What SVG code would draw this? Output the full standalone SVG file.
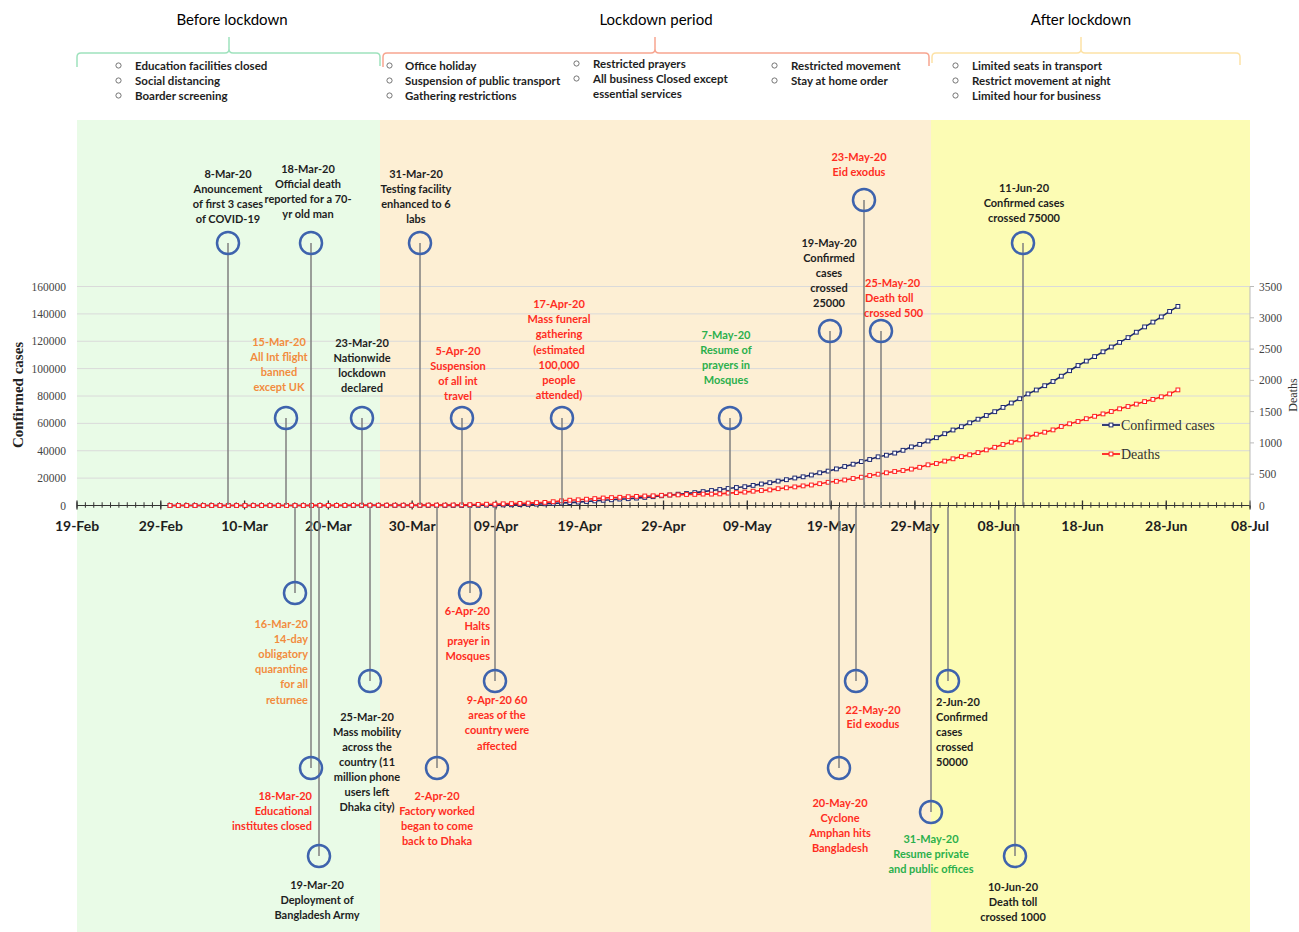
<svg xmlns="http://www.w3.org/2000/svg" width="1299" height="932" viewBox="0 0 1299 932">
<style>
.hd{font-family:Lato,"Liberation Sans",sans-serif;font-size:15px;fill:#000}
.bt{font-family:Lato,"Liberation Sans",sans-serif;font-size:11.5px;font-weight:700;fill:#1e1e1e}
.bu{fill:none;stroke:#666;stroke-width:0.9}
.lb{font-family:Lato,"Liberation Sans",sans-serif;font-size:11px;font-weight:700}
.c{text-anchor:middle}.e{text-anchor:end}
.k{fill:#1e1e1e}.r{fill:#ff2d1f}.o{fill:#f28c3e}.g{fill:#2bb04c}
.ev{fill:none;stroke:#3e63ad;stroke-width:2.5}
.cn{stroke:#7f7f7f;stroke-width:1.5}
.grid{stroke:#dadada;stroke-width:1}
.yl{font-family:"Liberation Serif",serif;font-size:11.5px;fill:#444}
.xl{font-family:Lato,"Liberation Sans",sans-serif;font-size:14px;font-weight:700;fill:#1e1e1e;text-anchor:middle}
.lg{font-family:"Liberation Serif",serif;font-size:14px;fill:#333}
</style>
<defs>
<marker id="mb" markerWidth="6" markerHeight="6" refX="3" refY="3" markerUnits="userSpaceOnUse"><rect x="1.1" y="1.1" width="3.8" height="3.8" fill="#fff" stroke="#1f2a70" stroke-width="1"/></marker>
<marker id="mr" markerWidth="6" markerHeight="6" refX="3" refY="3" markerUnits="userSpaceOnUse"><rect x="1.1" y="1.1" width="3.8" height="3.8" fill="#fff" stroke="#ff2020" stroke-width="1"/></marker>
</defs>
<rect width="1299" height="932" fill="#fff"/>
<!-- phase backgrounds -->
<rect x="77" y="120" width="303" height="812" fill="#e9fbe7"/>
<rect x="380" y="120" width="551" height="812" fill="#fdefd4"/>
<rect x="931" y="120" width="319" height="812" fill="#fcfcb4"/>

<!-- header -->
<g id="header">
<text class="hd c" x="232" y="25">Before lockdown</text>
<text class="hd c" x="656" y="25">Lockdown period</text>
<text class="hd c" x="1081" y="25">After lockdown</text>
<path d="M77,67 V57 Q77,53 81,53 H225 Q229,53 229,49 V37 M229,49 Q229,53 233,53 H376 Q380,53 380,57 V66" fill="none" stroke="#9fe2bd" stroke-width="1.5"/>
<path d="M383,67 V57 Q383,53 387,53 H651 Q655,53 655,49 V37 M655,49 Q655,53 659,53 H925 Q929,53 929,57 V66" fill="none" stroke="#f7a590" stroke-width="1.5"/>
<path d="M932,63 V57 Q932,53 936,53 H1077 Q1081,53 1081,49 V37 M1081,49 Q1081,53 1085,53 H1236 Q1240,53 1240,57 V65" fill="none" stroke="#fde2a6" stroke-width="1.5"/>
<circle class="bu" cx="118.5" cy="65.5" r="2.6"/><text class="bt" x="135" y="69.5">Education facilities closed</text>
<circle class="bu" cx="118.5" cy="80.5" r="2.6"/><text class="bt" x="135" y="84.5">Social distancing</text>
<circle class="bu" cx="118.5" cy="95.5" r="2.6"/><text class="bt" x="135" y="99.5">Boarder screening</text>
<circle class="bu" cx="389.5" cy="65.5" r="2.6"/><text class="bt" x="405" y="69.5">Office holiday</text>
<circle class="bu" cx="389.5" cy="80.5" r="2.6"/><text class="bt" x="405" y="84.5">Suspension of public transport</text>
<circle class="bu" cx="389.5" cy="95.5" r="2.6"/><text class="bt" x="405" y="99.5">Gathering restrictions</text>
<circle class="bu" cx="576.5" cy="63.5" r="2.6"/><text class="bt" x="593" y="67.5">Restricted prayers</text>
<circle class="bu" cx="576.5" cy="78.5" r="2.6"/><text class="bt" x="593" y="82.5">All business Closed except</text>
<text class="bt" x="593" y="97.5">essential services</text>
<circle class="bu" cx="774.5" cy="65.5" r="2.6"/><text class="bt" x="791" y="69.5">Restricted movement</text>
<circle class="bu" cx="774.5" cy="80.5" r="2.6"/><text class="bt" x="791" y="84.5">Stay at home order</text>
<circle class="bu" cx="955.5" cy="65.5" r="2.6"/><text class="bt" x="972" y="69.5">Limited seats in transport</text>
<circle class="bu" cx="955.5" cy="80.5" r="2.6"/><text class="bt" x="972" y="84.5">Restrict movement at night</text>
<circle class="bu" cx="955.5" cy="95.5" r="2.6"/><text class="bt" x="972" y="99.5">Limited hour for business</text>
</g>

<!-- chart axes & grid -->
<g id="chart">
<g class="grid">
<line x1="77" y1="286.5" x2="1250" y2="286.5"/>
<line x1="77" y1="313.9" x2="1250" y2="313.9"/>
<line x1="77" y1="341.25" x2="1250" y2="341.25"/>
<line x1="77" y1="368.6" x2="1250" y2="368.6"/>
<line x1="77" y1="396" x2="1250" y2="396"/>
<line x1="77" y1="423.4" x2="1250" y2="423.4"/>
<line x1="77" y1="450.75" x2="1250" y2="450.75"/>
<line x1="77" y1="478.1" x2="1250" y2="478.1"/>
</g>
<line x1="77" y1="505.5" x2="1250" y2="505.5" stroke="#333" stroke-width="1"/>
<line x1="76.5" y1="505" x2="1251" y2="505" stroke="#333" stroke-width="5.5" stroke-dasharray="1 7.379"/>
<line x1="76.35" y1="505" x2="1251" y2="505" stroke="#333" stroke-width="9" stroke-dasharray="1.3 82.49"/>
<line x1="1250" y1="286.5" x2="1250" y2="505.5" stroke="#bbb" stroke-width="1"/>
<g stroke="#bbb" stroke-width="1">
<line x1="1250" y1="286.5" x2="1254" y2="286.5"/><line x1="1250" y1="317.8" x2="1254" y2="317.8"/><line x1="1250" y1="349.1" x2="1254" y2="349.1"/><line x1="1250" y1="380.4" x2="1254" y2="380.4"/><line x1="1250" y1="411.6" x2="1254" y2="411.6"/><line x1="1250" y1="442.9" x2="1254" y2="442.9"/><line x1="1250" y1="474.2" x2="1254" y2="474.2"/>
</g>
<g class="yl" text-anchor="end">
<text x="66" y="290.5">160000</text><text x="66" y="317.9">140000</text><text x="66" y="345.2">120000</text><text x="66" y="372.6">100000</text><text x="66" y="400">80000</text><text x="66" y="427.4">60000</text><text x="66" y="454.7">40000</text><text x="66" y="482.1">20000</text><text x="66" y="509.5">0</text>
</g>
<g class="yl">
<text x="1259" y="290.5">3500</text><text x="1259" y="321.8">3000</text><text x="1259" y="353.1">2500</text><text x="1259" y="384.4">2000</text><text x="1259" y="415.6">1500</text><text x="1259" y="446.9">1000</text><text x="1259" y="478.2">500</text><text x="1259" y="509.5">0</text>
</g>
<g>
<text class="xl" x="77" y="531">19-Feb</text><text class="xl" x="160.8" y="531">29-Feb</text><text class="xl" x="244.6" y="531">10-Mar</text><text class="xl" x="328.4" y="531">20-Mar</text><text class="xl" x="412.2" y="531">30-Mar</text><text class="xl" x="496" y="531">09-Apr</text><text class="xl" x="579.7" y="531">19-Apr</text><text class="xl" x="663.5" y="531">29-Apr</text><text class="xl" x="747.3" y="531">09-May</text><text class="xl" x="831.1" y="531">19-May</text><text class="xl" x="914.9" y="531">29-May</text><text class="xl" x="998.7" y="531">08-Jun</text><text class="xl" x="1082.5" y="531">18-Jun</text><text class="xl" x="1166.3" y="531">28-Jun</text><text class="xl" x="1250" y="531">08-Jul</text>
</g>
<text transform="translate(23,395) rotate(-90)" text-anchor="middle" font-family="Liberation Serif, serif" font-weight="700" font-size="15" fill="#222">Confirmed cases</text>
<text transform="translate(1297,395) rotate(-90)" text-anchor="middle" font-family="Liberation Serif, serif" font-size="12" fill="#333">Deaths</text>
</g>

<!-- data series -->
<g id="series">
<polyline fill="none" stroke="#1f2a70" stroke-width="1.6" marker-start="url(#mb)" marker-mid="url(#mb)" marker-end="url(#mb)" points="170,505.5 178.3,505.5 186.7,505.5 195,505.5 203.3,505.5 211.7,505.5 220,505.5 228.3,505.5 236.6,505.5 245,505.5 253.3,505.5 261.6,505.5 270,505.5 278.3,505.5 286.6,505.5 295,505.5 303.3,505.5 311.6,505.5 319.9,505.5 328.3,505.5 336.6,505.5 344.9,505.5 353.3,505.5 361.6,505.4 369.9,505.4 378.3,505.4 386.6,505.4 394.9,505.4 403.2,505.4 411.6,505.4 419.9,505.4 428.2,505.4 436.6,505.4 444.9,505.4 453.2,505.4 461.6,505.4 469.9,505.3 478.2,505.3 486.5,505.2 494.9,505.1 503.2,504.9 511.5,504.8 519.9,504.6 528.2,504.4 536.5,504.1 544.9,503.8 553.2,503.4 561.5,503 569.8,502.6 578.2,502.1 586.5,501.5 594.8,500.9 603.2,500.3 611.5,499.8 619.8,499.1 628.2,498.7 636.5,498.1 644.8,497.4 653.1,496.7 661.5,495.8 669.8,495 678.1,494.2 686.5,493.5 694.8,492.6 703.1,491.6 711.5,490.5 719.8,489.5 728.1,488.5 736.4,487.5 744.8,486.7 753.1,485.4 761.4,484 769.8,482.7 778.1,481.1 786.4,479.7 794.8,478 803.1,476.8 811.4,475 819.7,472.8 828.1,471.1 836.4,468.9 844.7,466.5 853.1,464.2 861.4,461.6 869.7,459.5 878.1,456.8 886.4,455.2 894.7,453.1 903,450.3 911.4,446.9 919.7,444.4 928,441 936.4,437.7 944.7,433.7 953,430 961.4,426.7 969.7,422.8 978,419.2 986.3,415.5 994.7,411.7 1003,407.4 1011.3,403 1019.7,398.7 1028,393.9 1036.3,390 1044.7,385.7 1053,381.5 1061.3,376.2 1069.6,370.7 1078,365.5 1086.3,361.1 1094.6,356.6 1103,351.8 1111.3,347 1119.6,342.4 1128,337.6 1136.3,332.2 1144.6,326.9 1152.9,322.1 1161.3,316.9 1169.6,311.4 1177.9,306.4"/>
<polyline fill="none" stroke="#ff2020" stroke-width="1.6" marker-start="url(#mr)" marker-mid="url(#mr)" marker-end="url(#mr)" points="170,505.5 178.3,505.5 186.7,505.5 195,505.5 203.3,505.5 211.7,505.5 220,505.5 228.3,505.5 236.6,505.5 245,505.5 253.3,505.5 261.6,505.5 270,505.5 278.3,505.5 286.6,505.5 295,505.5 303.3,505.5 311.6,505.4 319.9,505.4 328.3,505.4 336.6,505.4 344.9,505.4 353.3,505.3 361.6,505.2 369.9,505.2 378.3,505.2 386.6,505.2 394.9,505.2 403.2,505.2 411.6,505.2 419.9,505.2 428.2,505.1 436.6,505.1 444.9,505.1 453.2,505 461.6,504.9 469.9,504.7 478.2,504.4 486.5,504.2 494.9,504.2 503.2,503.8 511.5,503.6 519.9,503.4 528.2,503.1 536.5,502.6 544.9,502.4 553.2,501.7 561.5,500.8 569.8,500.2 578.2,499.8 586.5,499.2 594.8,498.6 603.2,498 611.5,497.6 619.8,497.3 628.2,496.7 636.5,496.4 644.8,496 653.1,495.8 661.5,495.3 669.8,495 678.1,494.9 686.5,494.5 694.8,494.4 703.1,494.1 711.5,494.1 719.8,493.9 728.1,493.1 736.4,492.6 744.8,492.1 753.1,491.2 761.4,490.5 769.8,489.9 778.1,488.7 786.4,487.8 794.8,486.9 803.1,485.9 811.4,485 819.7,483.7 828.1,482.3 836.4,481.3 844.7,480 853.1,478.5 861.4,477.2 869.7,475.5 878.1,474.2 886.4,472.8 894.7,471.5 903,470.5 911.4,469.1 919.7,467.3 928,464.8 936.4,463.5 944.7,461.1 953,458.8 961.4,456.6 969.7,454.8 978,452.6 986.3,449.9 994.7,447.3 1003,444.5 1011.3,442.2 1019.7,439.9 1028,437 1036.3,434.2 1044.7,432.2 1053,429.9 1061.3,426.5 1069.6,423.8 1078,421.5 1086.3,418.7 1094.6,416.3 1103,413.9 1111.3,411.5 1119.6,408.8 1128,406.5 1136.3,404.1 1144.6,401.6 1152.9,399.4 1161.3,396.8 1169.6,393.9 1177.9,389.9"/>
</g>

<!-- legend -->
<g id="legend">
<polyline points="1102,425 1111,425 1120,425" fill="none" stroke="#1f2a70" stroke-width="1.8" marker-mid="url(#mb)"/>
<text class="lg" x="1121" y="430">Confirmed cases</text>
<polyline points="1102,454 1111,454 1120,454" fill="none" stroke="#ff2020" stroke-width="1.8" marker-mid="url(#mr)"/>
<text class="lg" x="1121" y="459">Deaths</text>
</g>

<!-- connectors -->
<g id="connectors" class="cn">
<line x1="228" y1="243" x2="228" y2="505"/>
<line x1="311" y1="243" x2="311" y2="768"/>
<line x1="420" y1="243" x2="420" y2="505"/>
<line x1="286" y1="418" x2="286" y2="505"/>
<line x1="362" y1="418" x2="362" y2="505"/>
<line x1="462" y1="418" x2="462" y2="505"/>
<line x1="562" y1="418" x2="562" y2="505"/>
<line x1="730" y1="418" x2="730" y2="505"/>
<line x1="830" y1="331" x2="830" y2="505"/>
<line x1="864" y1="200" x2="864" y2="508"/>
<line x1="881" y1="331" x2="881" y2="508"/>
<line x1="1023" y1="243" x2="1023" y2="505"/>
<line x1="295" y1="507" x2="295" y2="593"/>
<line x1="319" y1="507" x2="319" y2="856"/>
<line x1="370" y1="507" x2="370" y2="681"/>
<line x1="437" y1="507" x2="437" y2="768"/>
<line x1="470" y1="507" x2="470" y2="593"/>
<line x1="495" y1="507" x2="495" y2="681"/>
<line x1="839" y1="507" x2="839" y2="768"/>
<line x1="856" y1="507" x2="856" y2="681"/>
<line x1="931" y1="507" x2="931" y2="812"/>
<line x1="948" y1="507" x2="948" y2="681"/>
<line x1="1015" y1="507" x2="1015" y2="856"/>
</g>

<!-- events above axis -->
<g id="ev-8mar"><circle class="ev" cx="228" cy="243" r="11"/>
<text class="lb c k"><tspan x="228" y="178">8-Mar-20</tspan><tspan x="228" y="193">Anouncement</tspan><tspan x="228" y="208">of first 3 cases</tspan><tspan x="228" y="223">of COVID-19</tspan></text></g>
<g id="ev-18mar-death"><circle class="ev" cx="311" cy="243" r="11"/>
<text class="lb c k"><tspan x="308" y="173">18-Mar-20</tspan><tspan x="308" y="188">Official death</tspan><tspan x="308" y="203">reported for a 70-</tspan><tspan x="308" y="218">yr old man</tspan></text></g>
<g id="ev-31mar"><circle class="ev" cx="420" cy="243" r="11"/>
<text class="lb c k"><tspan x="416" y="178">31-Mar-20</tspan><tspan x="416" y="193">Testing facility</tspan><tspan x="416" y="208">enhanced to 6</tspan><tspan x="416" y="223">labs</tspan></text></g>
<g id="ev-15mar"><circle class="ev" cx="286" cy="418" r="11"/>
<text class="lb c o"><tspan x="279" y="346">15-Mar-20</tspan><tspan x="279" y="361">All Int flight</tspan><tspan x="279" y="376">banned</tspan><tspan x="279" y="391">except UK</tspan></text></g>
<g id="ev-23mar"><circle class="ev" cx="362" cy="418" r="11"/>
<text class="lb c k"><tspan x="362" y="347">23-Mar-20</tspan><tspan x="362" y="362">Nationwide</tspan><tspan x="362" y="377">lockdown</tspan><tspan x="362" y="392">declared</tspan></text></g>
<g id="ev-5apr"><circle class="ev" cx="462" cy="418" r="11"/>
<text class="lb c r"><tspan x="458" y="355">5-Apr-20</tspan><tspan x="458" y="370">Suspension</tspan><tspan x="458" y="385">of all int</tspan><tspan x="458" y="400">travel</tspan></text></g>
<g id="ev-17apr"><circle class="ev" cx="562" cy="418" r="11"/>
<text class="lb c r"><tspan x="559" y="308">17-Apr-20</tspan><tspan x="559" y="323">Mass funeral</tspan><tspan x="559" y="338">gathering</tspan><tspan x="559" y="354">(estimated</tspan><tspan x="559" y="369">100,000</tspan><tspan x="559" y="384">people</tspan><tspan x="559" y="399">attended)</tspan></text></g>
<g id="ev-7may"><circle class="ev" cx="730" cy="418" r="11"/>
<text class="lb c g"><tspan x="726" y="339">7-May-20</tspan><tspan x="726" y="354">Resume of</tspan><tspan x="726" y="369">prayers in</tspan><tspan x="726" y="384">Mosques</tspan></text></g>
<g id="ev-19may"><circle class="ev" cx="830" cy="331" r="11"/>
<text class="lb c k"><tspan x="829" y="247">19-May-20</tspan><tspan x="829" y="262">Confirmed</tspan><tspan x="829" y="277">cases</tspan><tspan x="829" y="292">crossed</tspan><tspan x="829" y="307">25000</tspan></text></g>
<g id="ev-23may"><circle class="ev" cx="864" cy="200" r="11"/>
<text class="lb c r"><tspan x="859" y="161">23-May-20</tspan><tspan x="859" y="176">Eid exodus</tspan></text></g>
<g id="ev-25may"><circle class="ev" cx="881" cy="331" r="11"/>
<text class="lb r"><tspan x="865" y="287">25-May-20</tspan><tspan x="865" y="302">Death toll</tspan><tspan x="864" y="317">crossed 500</tspan></text></g>
<g id="ev-11jun"><circle class="ev" cx="1023" cy="243" r="11"/>
<text class="lb c k"><tspan x="1024" y="192">11-Jun-20</tspan><tspan x="1024" y="207">Confirmed cases</tspan><tspan x="1024" y="222">crossed 75000</tspan></text></g>

<!-- events below axis -->
<g id="ev-16mar"><circle class="ev" cx="295" cy="593" r="11"/>
<text class="lb e o"><tspan x="308" y="628">16-Mar-20</tspan><tspan x="308" y="643">14-day</tspan><tspan x="308" y="658">obligatory</tspan><tspan x="308" y="673">quarantine</tspan><tspan x="308" y="688">for all</tspan><tspan x="308" y="704">returnee</tspan></text></g>
<g id="ev-18mar-edu"><circle class="ev" cx="311" cy="768" r="11"/>
<text class="lb e r"><tspan x="312" y="800">18-Mar-20</tspan><tspan x="312" y="815">Educational</tspan><tspan x="312" y="830">institutes closed</tspan></text></g>
<g id="ev-19mar"><circle class="ev" cx="319" cy="856" r="11"/>
<text class="lb c k"><tspan x="317" y="889">19-Mar-20</tspan><tspan x="317" y="904">Deployment of</tspan><tspan x="317" y="919">Bangladesh Army</tspan></text></g>
<g id="ev-25mar"><circle class="ev" cx="370" cy="681" r="11"/>
<text class="lb c k"><tspan x="367" y="721">25-Mar-20</tspan><tspan x="367" y="736">Mass mobility</tspan><tspan x="367" y="751">across the</tspan><tspan x="367" y="766">country (11</tspan><tspan x="367" y="781">million phone</tspan><tspan x="367" y="796">users left</tspan><tspan x="367" y="811">Dhaka city)</tspan></text></g>
<g id="ev-2apr"><circle class="ev" cx="437" cy="768" r="11"/>
<text class="lb c r"><tspan x="437" y="800">2-Apr-20</tspan><tspan x="437" y="815">Factory worked</tspan><tspan x="437" y="830">began to come</tspan><tspan x="437" y="845">back to Dhaka</tspan></text></g>
<g id="ev-6apr"><circle class="ev" cx="470" cy="593" r="11"/>
<text class="lb e r"><tspan x="490" y="615">6-Apr-20</tspan><tspan x="490" y="630">Halts</tspan><tspan x="490" y="645">prayer in</tspan><tspan x="490" y="660">Mosques</tspan></text></g>
<g id="ev-9apr"><circle class="ev" cx="495" cy="681" r="11"/>
<text class="lb c r"><tspan x="497" y="704">9-Apr-20 60</tspan><tspan x="497" y="719">areas of the</tspan><tspan x="497" y="734">country were</tspan><tspan x="497" y="750">affected</tspan></text></g>
<g id="ev-20may"><circle class="ev" cx="839" cy="768" r="11"/>
<text class="lb c r"><tspan x="840" y="807">20-May-20</tspan><tspan x="840" y="822">Cyclone</tspan><tspan x="840" y="837">Amphan hits</tspan><tspan x="840" y="852">Bangladesh</tspan></text></g>
<g id="ev-22may"><circle class="ev" cx="856" cy="681" r="11"/>
<text class="lb c r"><tspan x="873" y="714">22-May-20</tspan><tspan x="873" y="728">Eid exodus</tspan></text></g>
<g id="ev-31may"><circle class="ev" cx="931" cy="812" r="11"/>
<text class="lb c g"><tspan x="931" y="843">31-May-20</tspan><tspan x="931" y="858">Resume private</tspan><tspan x="931" y="873">and public offices</tspan></text></g>
<g id="ev-2jun"><circle class="ev" cx="948" cy="681" r="11"/>
<text class="lb k"><tspan x="936" y="706">2-Jun-20</tspan><tspan x="936" y="721">Confirmed</tspan><tspan x="936" y="736">cases</tspan><tspan x="936" y="751">crossed</tspan><tspan x="936" y="766">50000</tspan></text></g>
<g id="ev-10jun"><circle class="ev" cx="1015" cy="856" r="11"/>
<text class="lb c k"><tspan x="1013" y="891">10-Jun-20</tspan><tspan x="1013" y="906">Death toll</tspan><tspan x="1013" y="921">crossed 1000</tspan></text></g>
</svg>
